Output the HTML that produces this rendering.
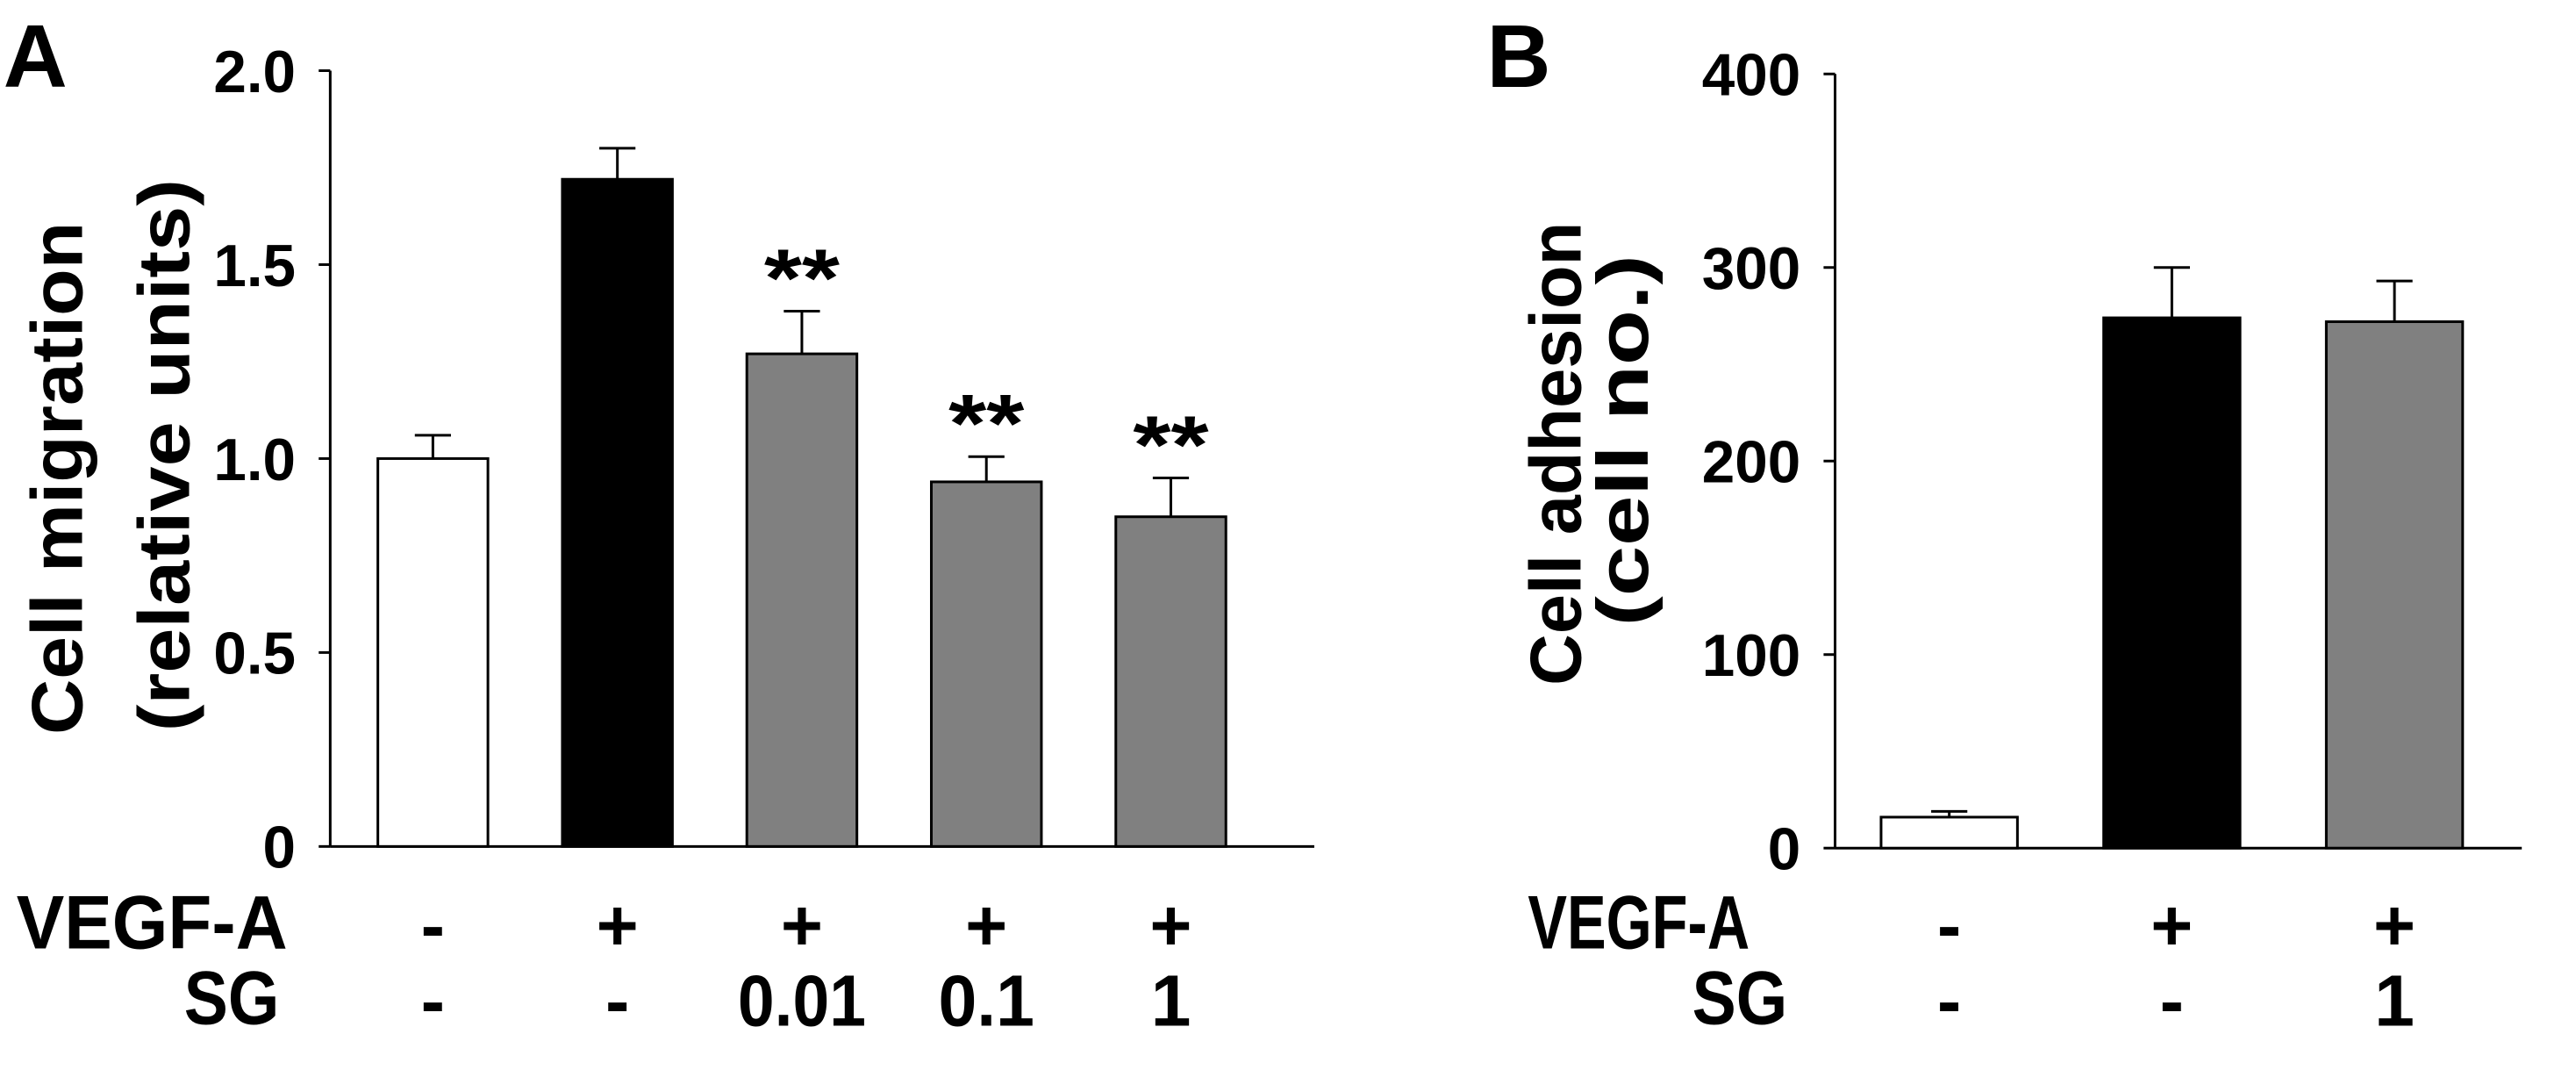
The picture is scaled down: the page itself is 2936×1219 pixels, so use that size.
<!DOCTYPE html>
<html><head><meta charset="utf-8"><style>
html,body{margin:0;padding:0;background:#fff;}
svg{display:block;font-family:"Liberation Sans",Arial,sans-serif;font-weight:bold;}
</style></head><body>
<svg id="fig" width="2936" height="1219" viewBox="0 0 1568 651" preserveAspectRatio="none" xmlns="http://www.w3.org/2000/svg">
<rect width="1568" height="651" fill="#fff"/>
<g id="pa"></g>
<g id="pb"></g>
</svg>
<script>
// Panel A data
const aCats = ["ctrl","vegf","sg0.01","sg0.1","sg1"];
const aValues = [1.0, 1.72, 1.27, 0.94, 0.85];
const aErrors = [0.06, 0.08, 0.11, 0.065, 0.10];
const aFills = ["#fff","#000","#808080","#808080","#808080"];
const aSig = ["","","**","**","**"];
const aTicks = [0, 0.5, 1.0, 1.5, 2.0];
const aTickLabels = ["0","0.5","1.0","1.5","2.0"];
const aVegf = ["-","+","+","+","+"];
const aSg = ["-","-","0.01","0.1","1"];
// Panel B data
const bCats = ["ctrl","vegf","sg1"];
const bValues = [16, 274, 272];
const bErrors = [3, 26, 21];
const bFills = ["#fff","#000","#808080"];
const bTicks = [0, 100, 200, 300, 400];
const bTickLabels = ["0","100","200","300","400"];
const bVegf = ["-","+","+"];
const bSg = ["-","-","1"];

const NS = "http://www.w3.org/2000/svg";
function mk(parent, tag, attrs, text){
  const e = document.createElementNS(NS, tag);
  for (const k in attrs) e.setAttribute(k, attrs[k]);
  if (text !== undefined) e.textContent = text;
  parent.appendChild(e);
  return e;
}

function panel(g, o){
  const y = v => o.y0 - (v - o.min) / (o.max - o.min) * (o.y0 - o.y1);
  const xc = i => o.x0 + i * o.step;
  let ax = mk(g, "line", {x1:o.ax, y1:o.y1, x2:o.ax, y2:o.y0, stroke:"#000", "stroke-width":1.6});
  
  
  let xax = mk(g, "line", {x1:o.ax, y1:o.y0, x2:o.xEnd, y2:o.y0, stroke:"#000", "stroke-width":1.6});
  
  
  o.ticks.forEach((t, i) => {
    let tl = mk(g, "line", {x1:o.ax-7, y1:y(t), x2:o.ax, y2:y(t), stroke:"#000", "stroke-width":1.6});
    
    
    let tx = mk(g, "text", {x:o.ax-21, y:y(t)+13, "text-anchor":"end", "font-size":36}, o.tickLabels[i]);
    
    
  });
  o.values.forEach((v, i) => {
    const cx = xc(i);
    let eb = mk(g, "path", {d:`M${cx} ${y(v)} V${y(v+o.errors[i])} M${cx-11} ${y(v+o.errors[i])} H${cx+11}`, stroke:"#000", "stroke-width":1.6, fill:"none"});
    
    
    let b = mk(g, "rect", {x:cx-o.bw/2, y:y(v), width:o.bw, height:o.y0-y(v), fill:o.fills[i], stroke:"#000", "stroke-width":1.6});
    
    
    if (o.sig && o.sig[i]) {
      let s = mk(g, "text", {x:cx, y:y(v+o.errors[i])-3, "text-anchor":"middle", "font-size":50, textLength:46, lengthAdjust:"spacingAndGlyphs"}, o.sig[i]);
      
      
    }
    let vt = mk(g, "text", {x:cx, y:578, "text-anchor":"middle", "font-size":44}, o.vegf[i]);
    
    
    const sgs = o.sg[i];
    const sa = {x:cx, y:624, "text-anchor":"middle", "font-size":44};
    if (sgs.length > 1) { sa.textLength = sgs.length*19.5; sa.lengthAdjust = "spacingAndGlyphs"; }
    let st = mk(g, "text", sa, sgs);
    
    
  });
}

const pa = document.getElementById("pa");
panel(pa, {ax:201, y0:515, y1:43, min:0, max:2, xEnd:800, x0:263.5, step:112.3, bw:67,
  values:aValues, errors:aErrors, fills:aFills, sig:aSig, cats:aCats, ticks:aTicks, tickLabels:aTickLabels, vegf:aVegf, sg:aSg});
const pb = document.getElementById("pb");
panel(pb, {ax:1117, y0:516, y1:45, min:0, max:400, xEnd:1535, x0:1186.5, step:135.5, bw:83,
  values:bValues, errors:bErrors, fills:bFills, cats:bCats, ticks:bTicks, tickLabels:bTickLabels, vegf:bVegf, sg:bSg});

function txt(g, name, attrs, s){
  const t = mk(g, "text", attrs, s);
  
  
  return t;
}
const adj = "spacingAndGlyphs";
txt(pa, "panel-label-a", {x:2, y:53, "font-size":54}, "A");
txt(pa, "y-axis-title-line1", {x:0, y:0, "text-anchor":"middle", "font-size":44, textLength:312, lengthAdjust:adj, transform:"translate(50,291) rotate(-90)"}, "Cell migration");
txt(pa, "y-axis-title-line2", {x:0, y:0, "text-anchor":"middle", "font-size":44, textLength:336, lengthAdjust:adj, transform:"translate(115,277) rotate(-90)"}, "(relative units)");
txt(pa, "vegf-a-row-label", {x:10, y:577, "font-size":46, textLength:165, lengthAdjust:adj}, "VEGF-A");
txt(pa, "sg-row-label", {x:112, y:623, "font-size":46, textLength:58, lengthAdjust:adj}, "SG");
txt(pb, "panel-label-b", {x:905, y:53, "font-size":54}, "B");
txt(pb, "y-axis-title-line1", {x:0, y:0, "text-anchor":"middle", "font-size":44, textLength:282, lengthAdjust:adj, transform:"translate(962,276) rotate(-90)"}, "Cell adhesion");
txt(pb, "y-axis-title-line2", {x:0, y:0, "text-anchor":"middle", "font-size":44, textLength:226, lengthAdjust:adj, transform:"translate(1003,268) rotate(-90)"}, "(cell no.)");
txt(pb, "vegf-a-row-label", {x:930, y:577, "font-size":46, textLength:135, lengthAdjust:adj}, "VEGF-A");
txt(pb, "sg-row-label", {x:1030, y:623, "font-size":46, textLength:58, lengthAdjust:adj}, "SG");
</script>
</body></html>
